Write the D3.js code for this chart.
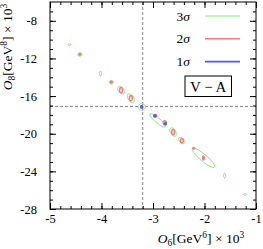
<!DOCTYPE html>
<html><head><meta charset="utf-8">
<script src="https://cdn.jsdelivr.net/npm/d3@7"></script>
<style>
body{margin:0;background:#fff;}
text{font-family:"Liberation Serif","DejaVu Serif",serif;fill:#000;}
</style></head>
<body><svg id="c" width="263" height="249"></svg>
<script>
// contour ellipses: [cx, cy, sx, sy, rho] in data units (O6 x1e3, O8 x1e3)
const sigma3 = [
  [-4.62,-10.54,0.03,0.10,0],
  [-4.42,-11.57,0.04,0.19,0],
  [-4.02,-13.60,0.02,0.26,0],
  [-3.81,-14.52,0.04,0.19,0],
  [-3.62,-15.38,0.068,0.40,-0.45],
  [-3.43,-16.22,0.068,0.47,-0.45],
  [-3.22,-17.15,0.068,0.37,0],
  [-2.91,-18.58,0.15,0.71,-0.88],
  [-2.61,-19.82,0.064,0.45,-0.5],
  [-2.44,-20.72,0.064,0.32,-0.5],
  [-2.02,-22.56,0.217,1.02,-0.89],
  [-1.61,-24.45,0.02,0.26,0],
  [-1.21,-26.45,0.03,0.10,0]
];
const sigma2 = [
  [-4.42,-11.57,0.016,0.08,0],
  [-3.81,-14.52,0.016,0.08,0],
  [-3.62,-15.36,0.028,0.28,0],
  [-3.43,-16.22,0.028,0.28,0],
  [-3.22,-17.15,0.02,0.14,0],
  [-2.96,-18.10,0.028,0.15,0],
  [-2.77,-18.85,0.028,0.22,0],
  [-2.61,-19.82,0.028,0.28,0],
  [-2.44,-20.74,0.028,0.22,0],
  [-2.21,-21.55,0.016,0.08,0],
  [-2.02,-22.58,0.016,0.18,0]
];
const sigma1 = [
  [-3.22,-17.15,0.016,0.12,0],
  [-2.96,-18.10,0.016,0.08,0],
  [-2.76,-18.93,0.016,0.08,0]
];
const xTicks = [-5,-4,-3,-2,-1];
const yTicks = [-28,-24,-20,-16,-12,-8];
const refX = -3.2, refY = -17.1;
const legendItems = [["3","#77ee77",1,sigma3],["2","#ff7a7a",1.6,sigma2],["1","#5555ff",1.6,sigma1]];

const svg = d3.select("#c");
const L=50,R=256,T=2,B=209;
const x = d3.scaleLinear().domain([-5,-1]).range([L,R]);
const y = d3.scaleLinear().domain([-28,-6]).range([B,T]);

// reference dashed lines
const g0 = svg.append("g").attr("stroke","#888").attr("stroke-width",1).attr("stroke-dasharray","3,2");
g0.append("line").attr("x1",x(refX)).attr("x2",x(refX)).attr("y1",T).attr("y2",B);
g0.append("line").attr("x1",L).attr("x2",R).attr("y1",y(refY)).attr("y2",y(refY));

// ellipses
const line = d3.line().curve(d3.curveLinearClosed);
function ell(e){
  const [cx,cy,sx,sy,r]=e; const pts=[];
  for(let i=0;i<60;i++){const t=i/60*2*Math.PI;
    pts.push([x(cx+sx*Math.cos(t)), y(cy+sy*(r*Math.cos(t)+Math.sqrt(1-r*r)*Math.sin(t)))]);}
  return line(pts);
}
legendItems.forEach(([n,col,w,data])=>{
  svg.append("g").selectAll("path").data(data).join("path")
    .attr("d",ell).attr("fill","none").attr("stroke",col).attr("stroke-width",w);
});

// axes (inward ticks, mirrored)
const xMinor = d3.range(-5,-1.0001,0.2).map(v=>+v.toFixed(2));
const yMinor = d3.range(-28,-6.0001,1);
function ax(gen, tr){ return svg.append("g").attr("transform",tr).call(gen).call(g=>g.select(".domain").remove()); }
ax(d3.axisBottom(x).tickValues(xMinor).tickSize(-3).tickFormat(""),`translate(0,${B})`);
ax(d3.axisTop(x).tickValues(xMinor).tickSize(-3).tickFormat(""),`translate(0,${T})`);
ax(d3.axisLeft(y).tickValues(yMinor).tickSize(-3).tickFormat(""),`translate(${L},0)`);
ax(d3.axisRight(y).tickValues(yMinor).tickSize(-3).tickFormat(""),`translate(${R},0)`);
ax(d3.axisBottom(x).tickValues(xTicks).tickSize(-6).tickPadding(5).tickFormat(d=>d),`translate(0,${B})`)
  .selectAll("text").attr("font-size",12.5).attr("font-family","Liberation Serif");
ax(d3.axisTop(x).tickValues(xTicks).tickSize(-6).tickFormat(""),`translate(0,${T})`);
ax(d3.axisLeft(y).tickValues(yTicks).tickSize(-6).tickPadding(13).tickFormat(d=>d),`translate(${L},0)`)
  .selectAll("text").attr("font-size",12.5).attr("font-family","Liberation Serif");
ax(d3.axisRight(y).tickValues(yTicks).tickSize(-6).tickFormat(""),`translate(${R},0)`);
svg.selectAll(".tick line").attr("stroke","#000");

svg.append("rect").attr("x",L).attr("y",T).attr("width",R-L).attr("height",B-T)
  .attr("fill","none").attr("stroke","#000").attr("stroke-width",1);

// legend
legendItems.forEach(([n,col,w],i)=>{
  const yy = 16 + i*22.8;
  const t = svg.append("text").attr("x",190).attr("y",yy+4.5).attr("text-anchor","end").attr("font-size",13.5);
  t.append("tspan").text(n);
  t.append("tspan").attr("font-style","italic").text("σ");
  svg.append("line").attr("x1",205).attr("x2",240).attr("y1",yy).attr("y2",yy)
    .attr("stroke",col).attr("stroke-width",w);
});
svg.append("rect").attr("x",185).attr("y",76).attr("width",46.5).attr("height",20.5)
  .attr("fill","#fff").attr("stroke","#000").attr("stroke-width",1);
svg.append("text").attr("x",208.2).attr("y",91.5).attr("text-anchor","middle").attr("font-size",15).text("V − A");

// axis titles
function title(t,sub){
  t.append("tspan").attr("font-style","italic").text("O");
  t.append("tspan").attr("font-size","70%").attr("dy",3).text(sub);
  t.append("tspan").attr("dy",-3).text("[GeV");
  t.append("tspan").attr("font-size","70%").attr("dy",-5).text(sub);
  t.append("tspan").attr("dy",5).text("] × 10");
  t.append("tspan").attr("font-size","70%").attr("dy",-5).text("3");
}
title(svg.append("text").attr("x",201).attr("y",243).attr("text-anchor","middle").attr("font-size",13.5),"6");
title(svg.append("text").attr("transform","translate(12,47) rotate(-90)").attr("text-anchor","middle").attr("font-size",13.5),"8");
</script></body></html>
